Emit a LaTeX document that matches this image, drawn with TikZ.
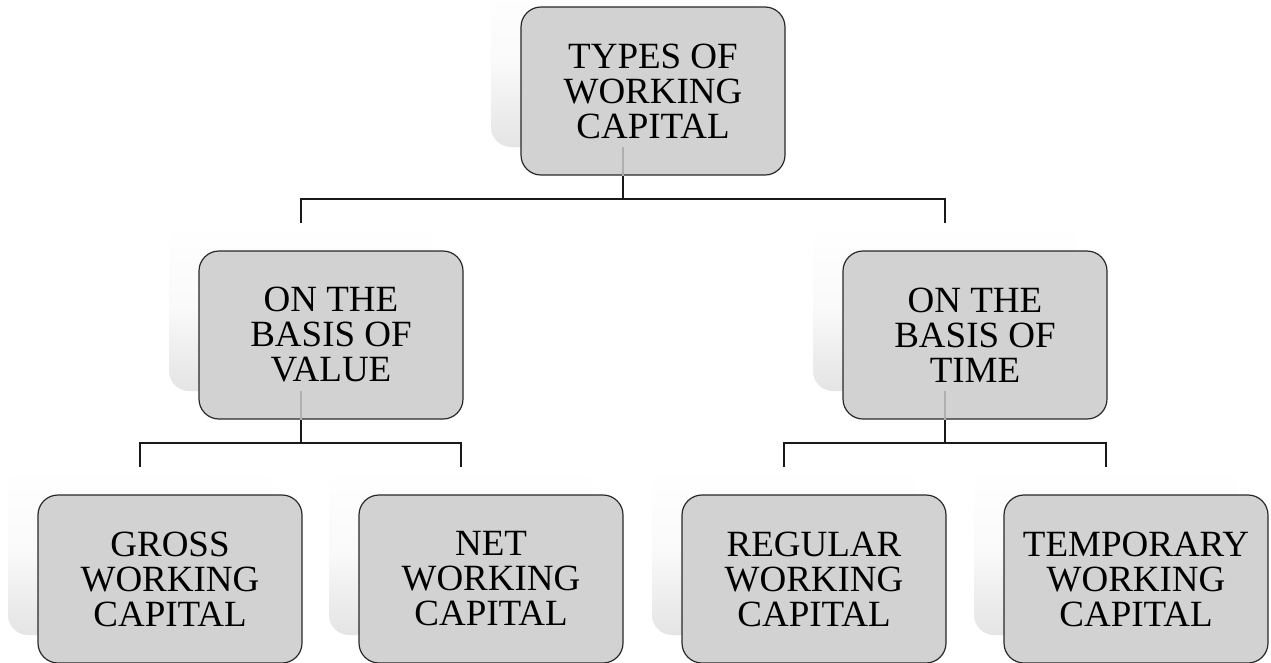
\documentclass[tikz,border=0pt]{standalone}
\usepackage{fontspec}
\setmainfont{Liberation Serif}
\definecolor{boxfill}{RGB}{210,210,210}
\definecolor{shadowbot}{RGB}{228,228,228}
\definecolor{edgecol}{RGB}{40,40,40}
\definecolor{hidden}{RGB}{175,175,175}
\tikzset{
  shadowbox/.style={rectangle, rounded corners=20pt, minimum width=264pt, minimum height=168pt,
    inner sep=0pt, top color=white, bottom color=shadowbot, middle color=white!80!shadowbot, draw=none},
  mainbox/.style={rectangle, rounded corners=20pt, minimum width=264pt, minimum height=168pt,
    inner sep=0pt, fill=boxfill, draw=edgecol, line width=1.2pt,
    align=center, font=\fontsize{37}{35}\selectfont},
  link/.style={draw=black!90, line width=1.5pt},
  hiddenlink/.style={draw=hidden, line width=1.5pt}
}
\begin{document}
\begin{tikzpicture}[x=1pt,y=-1pt]
\useasboundingbox (0,0) rectangle (1271,662);
% shadows (layout anchors)
\node[shadowbox] (s0) at (623,63) {};
\node[shadowbox] (s1) at (301,307) {};
\node[shadowbox] (s2) at (945,307) {};
\node[shadowbox] (s3) at (140,551) {};
\node[shadowbox] (s4) at (461,551) {};
\node[shadowbox] (s5) at (784,551) {};
\node[shadowbox] (s6) at (1106,551) {};
% connectors
\coordinate (j0) at (623,199);
\coordinate (j1) at (301,443);
\coordinate (j2) at (945,443);
\draw[link] (s0.south) -- (j0);
\draw[link] (j0) -| (s1.north);
\draw[link] (j0) -| (s2.north);
\draw[link] (s1.south) -- (j1);
\draw[link] (j1) -| (s3.north);
\draw[link] (j1) -| (s4.north);
\draw[link] (s2.south) -- (j2);
\draw[link] (j2) -| (s5.north);
\draw[link] (j2) -| (s6.north);
% boxes
\node[mainbox] (b0) at (653,91) {TYPES OF\\WORKING\\CAPITAL};
\node[mainbox] (b1) at (331,335) {ON THE\\BASIS OF\\VALUE};
\node[mainbox] (b2) at (975,335) {ON THE\\BASIS OF\\TIME};
\node[mainbox] (b3) at (170,579) {GROSS\\WORKING\\CAPITAL};
\node[mainbox] (b4) at (491,579) {NET\\WORKING\\CAPITAL};
\node[mainbox] (b5) at (814,579) {REGULAR\\WORKING\\CAPITAL};
\node[mainbox] (b6) at (1136,579) {TEMPORARY\\WORKING\\CAPITAL};
% connector parts seen faintly through the boxes
\draw[hiddenlink] (s0.south) -- (s0.south |- b0.south);
\draw[hiddenlink] (s1.south) -- (s1.south |- b1.south);
\draw[hiddenlink] (s2.south) -- (s2.south |- b2.south);
\end{tikzpicture}
\end{document}
